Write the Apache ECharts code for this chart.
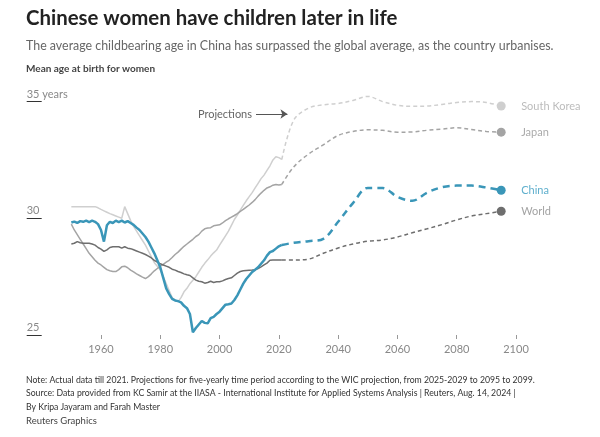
<!DOCTYPE html>
<html><head><meta charset="utf-8">
<script src="https://cdn.jsdelivr.net/npm/echarts@6/dist/echarts.min.js"></script>
<style>html,body{margin:0;padding:0;background:#fff}#c{width:600px;height:437px}</style>
</head><body><div id="c"></div>
<script>
// ---------- data ----------
const actualYears = [];
for (let y = 1950; y <= 2021; y++) actualYears.push(y);
const projYears = [2021, 2025, 2030, 2035, 2040, 2045, 2050, 2055, 2060, 2065, 2070, 2075, 2080, 2085, 2090, 2095];

const chinaActual = [
  29.82, 29.86, 29.8, 29.88, 29.85, 29.9, 29.84, 29.9, 29.85, 29.75,
  29.5, 29.0, 29.7, 29.85, 29.8, 29.9, 29.84, 29.9, 29.82, 29.88,
  29.8, 29.72, 29.6, 29.5, 29.35, 29.2, 29.0, 28.75, 28.5, 28.2,
  27.9, 27.45, 27.0, 26.75, 26.55, 26.48, 26.45, 26.4, 26.25, 26.15,
  25.9, 25.12, 25.3, 25.45, 25.6, 25.52, 25.5, 25.72, 25.78, 25.9,
  26.0, 26.15, 26.3, 26.32, 26.35, 26.5, 26.7, 26.95, 27.2, 27.4,
  27.55, 27.7, 27.8, 27.9, 28.05, 28.2, 28.4, 28.55, 28.6, 28.7,
  28.8, 28.86];
const chinaProj = [28.86, 28.95, 29.02, 29.12, 29.85, 30.65, 31.3, 31.3, 30.92, 30.75, 31.1, 31.33, 31.4, 31.4, 31.32, 31.2];

const worldActual = [
  28.9, 28.93, 29.0, 28.95, 28.93, 28.93, 28.93, 28.9, 28.85, 28.75,
  28.68, 28.58, 28.65, 28.75, 28.78, 28.78, 28.78, 28.72, 28.78, 28.72,
  28.7, 28.65, 28.6, 28.55, 28.5, 28.45, 28.38, 28.3, 28.2, 28.12,
  28.05, 28.0, 27.95, 27.9, 27.82, 27.78, 27.72, 27.68, 27.62, 27.58,
  27.55, 27.45, 27.35, 27.3, 27.28, 27.22, 27.25, 27.3, 27.25, 27.28,
  27.28, 27.32, 27.38, 27.42, 27.45, 27.55, 27.65, 27.72, 27.75, 27.76,
  27.77, 27.78, 27.8, 27.85, 27.92, 28.0, 28.08, 28.2, 28.21, 28.21,
  28.21, 28.21];
const worldProj = [28.21, 28.21, 28.25, 28.5, 28.73, 28.9, 29.02, 29.07, 29.2, 29.38, 29.55, 29.73, 29.93, 30.1, 30.2, 30.3];

const japanActual = [
  29.75, 29.5, 29.3, 29.1, 28.9, 28.7, 28.5, 28.35, 28.2, 28.08,
  28.0, 27.9, 27.8, 27.75, 27.72, 27.72, 27.8, 27.92, 27.95, 27.88,
  27.78, 27.7, 27.62, 27.55, 27.48, 27.42, 27.5, 27.62, 27.75, 27.85,
  27.95, 28.03, 28.12, 28.2, 28.32, 28.45, 28.55, 28.68, 28.8, 28.9,
  29.0, 29.1, 29.22, 29.3, 29.45, 29.55, 29.58, 29.6, 29.68, 29.7,
  29.72, 29.8, 29.9, 29.98, 30.05, 30.12, 30.2, 30.3, 30.38, 30.48,
  30.57, 30.68, 30.8, 30.95, 31.08, 31.2, 31.3, 31.35, 31.42, 31.45,
  31.43, 31.45];
const japanProj = [31.45, 32.2, 32.75, 33.15, 33.55, 33.72, 33.79, 33.77, 33.69, 33.7, 33.77, 33.82, 33.88, 33.8, 33.72, 33.69];

const koreaActual = [
  30.5, 30.5, 30.5, 30.5, 30.5, 30.5, 30.5, 30.5, 30.5, 30.45,
  30.38, 30.32, 30.26, 30.2, 30.15, 30.1, 30.05, 30.0, 30.5, 30.2,
  29.9, 29.65, 29.45, 29.25, 29.05, 28.85, 28.6, 28.35, 28.1, 27.95,
  27.8, 27.5, 27.2, 26.9, 26.6, 26.48, 26.43, 26.6, 26.85, 27.0,
  27.2, 27.35, 27.5, 27.7, 27.9, 28.07, 28.22, 28.38, 28.52, 28.64,
  28.85, 29.05, 29.25, 29.45, 29.7, 29.95, 30.14, 30.35, 30.55, 30.75,
  30.93, 31.1, 31.3, 31.5, 31.7, 31.85, 32.05, 32.25, 32.5, 32.64,
  32.6, 32.52];
const koreaProj = [32.52, 34.2, 34.72, 34.86, 34.92, 35.05, 35.22, 35.0, 34.84, 34.8, 34.81, 34.88, 34.96, 35.0, 34.96, 34.81];

const xTickValues = [1960, 1980, 2000, 2020, 2040, 2060, 2080, 2100];
const yTickValues = [25, 30, 35];
const projectionArrow = [[2012.3, 34.47], [2022.9, 34.47]];

// ---------- chart ----------
const FONT = 'Lato, "Open Sans", sans-serif';
const pairs = (xs, ys) => xs.map((x, i) => [x, ys[i]]);

const countries = [
  { name: 'South Korea', actual: koreaActual, proj: koreaProj, color: '#cfcfcf', label: '#bcbcbc', width: 1.5, dash: [4, 3] },
  { name: 'Japan', actual: japanActual, proj: japanProj, color: '#a4a4a4', label: '#ababab', width: 1.5, dash: [4, 3] },
  { name: 'World', actual: worldActual, proj: worldProj, color: '#6e6e6e', label: '#a3a3a3', width: 1.5, dash: [4, 3] },
  { name: 'China', actual: chinaActual, proj: chinaProj, color: '#3a96b8', label: '#5fafcd', width: 2.5, dash: [7, 5] }
];

const series = [];
countries.forEach((c, k) => {
  series.push({
    type: 'line', name: c.name, data: pairs(actualYears, c.actual),
    showSymbol: false, clip: false, silent: true, z: 2 + k,
    lineStyle: { color: c.color, width: c.width }
  });
  const pd = pairs(projYears, c.proj);
  const s = {
    type: 'line', name: c.name + ' projection', data: pd,
    smooth: 0.35, clip: false, silent: true, z: 2 + k,
    symbol: 'circle', showSymbol: true,
    symbolSize: (v, p) => (p.dataIndex === pd.length - 1 ? 9 : 0),
    itemStyle: { color: c.color, borderWidth: 0 },
    lineStyle: { color: c.color, width: c.width, type: c.dash },
    endLabel: { show: true, formatter: c.name, color: c.label, fontSize: 11, fontFamily: FONT, distance: 20 }
  };
  if (k === 0) {
    s.markLine = {
      silent: true, symbol: ['none', 'arrow'], symbolSize: 7,
      data: [[{ coord: projectionArrow[0] }, { coord: projectionArrow[1] }]],
      itemStyle: { color: '#555' },
      lineStyle: { color: '#555', width: 1, type: 'solid' },
      label: { show: true, position: 'start', formatter: 'Projections', color: '#666', fontSize: 11, fontFamily: FONT, distance: 4 }
    };
  }
  series.push(s);
});

const chart = echarts.init(document.getElementById('c'), null, { renderer: 'canvas' });
chart.setOption({
  animation: false,
  backgroundColor: '#fff',
  textStyle: { fontFamily: FONT },
  title: [
    { text: 'Chinese women have children later in life', left: 26, top: 8, padding: 0,
      textStyle: { fontSize: 20.4, fontWeight: 'bold', color: '#222', fontFamily: FONT } },
    { text: 'The average childbearing age in China has surpassed the global average, as the country urbanises.', left: 26, top: 40, padding: 0,
      textStyle: { fontSize: 12.4, fontWeight: 'normal', color: '#666', fontFamily: FONT } },
    { text: 'Mean age at birth for women', left: 26, top: 64, padding: 0,
      textStyle: { fontSize: 10, fontWeight: 'bold', color: '#444', fontFamily: FONT } },
    { text: 'Note: Actual data till 2021. Projections for five-yearly time period according to the WIC projection, from 2025-2029 to 2095 to 2099.\nSource: Data provided from KC Samir at the IIASA - International Institute for Applied Systems Analysis | Reuters, Aug. 14, 2024 |\nBy Kripa Jayaram and Farah Master',
      left: 26, top: 373, padding: 0,
      textStyle: { fontSize: 8.7, lineHeight: 13.5, fontWeight: 'normal', color: '#333', fontFamily: FONT } },
    { text: 'Reuters Graphics', left: 26, top: 416, padding: 0,
      textStyle: { fontSize: 9.5, fontWeight: 'normal', color: '#444', fontFamily: FONT } }
  ],
  grid: { left: 41.7, right: 84, top: 101.6, bottom: 102, containLabel: false },
  xAxis: {
    type: 'value', min: 1940, max: 2100, interval: 20,
    axisLine: { show: false },
    axisTick: { show: true, customValues: xTickValues, length: 4, lineStyle: { color: '#999' } },
    axisLabel: { customValues: xTickValues, color: '#888', fontSize: 11, margin: 9, fontFamily: FONT, formatter: v => String(v) },
    splitLine: { show: false }
  },
  yAxis: {
    type: 'value', min: 25, max: 35, interval: 5,
    axisLine: { show: false },
    axisTick: { show: true, length: 15, lineStyle: { color: '#333', width: 1 } },
    axisLabel: {
      customValues: yTickValues,
      align: 'left', verticalAlign: 'bottom', margin: 15, padding: [0, 0, 2, 0],
      color: '#888', fontSize: 11, fontFamily: FONT,
      formatter: v => (v === 35 ? '35 years' : String(v))
    },
    splitLine: { show: false }
  },
  series: series
});
</script>
</body></html>
